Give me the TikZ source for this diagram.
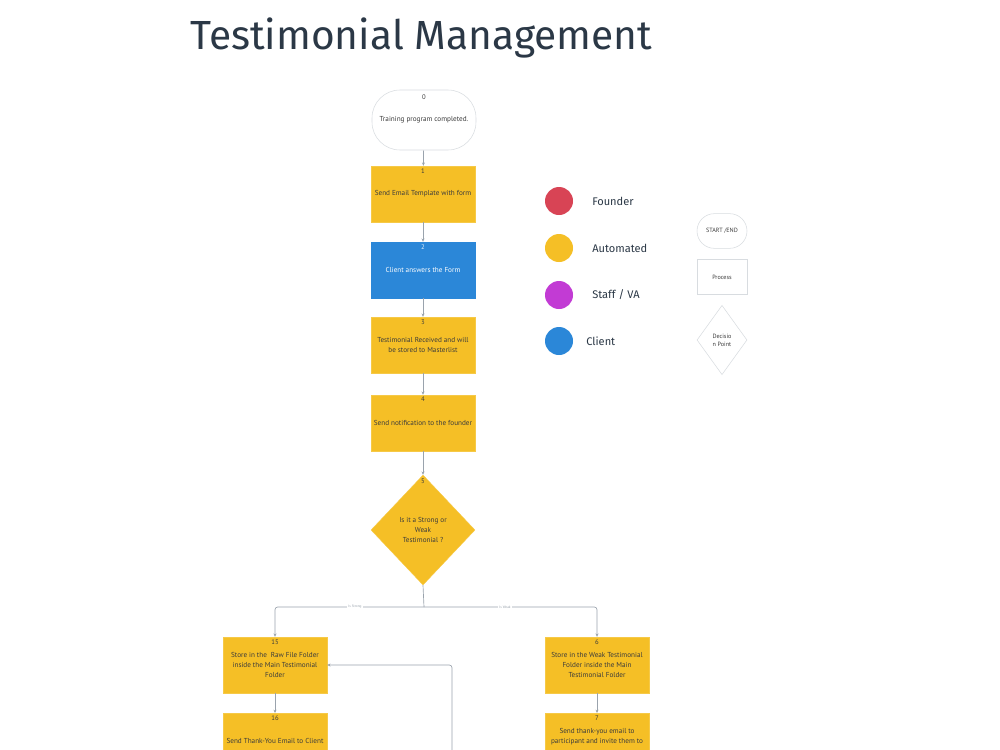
\documentclass[tikz,border=0pt]{standalone}
\usepackage{fontspec}
\setmainfont{Fira Sans}
\newfontfamily\boxfont{PT Sans}
\usetikzlibrary{shapes.geometric,arrows.meta}
\definecolor{autoY}{HTML}{F5BF26}
\definecolor{clientB}{HTML}{2B87D8}
\definecolor{founderR}{HTML}{D84455}
\definecolor{staffP}{HTML}{C23BD4}
\definecolor{lineG}{HTML}{9AA3AD}
\definecolor{edgeG}{HTML}{D8DCE0}
\definecolor{titleC}{HTML}{2B3846}
\definecolor{txtC}{HTML}{3B3B3B}
\tikzset{
  boxtext/.style={font=\boxfont\fontsize{5.4}{7.4}\selectfont, text=txtC, align=center},
  stepbox/.style={rectangle, fill=autoY, draw=autoY!85!white, line width=0.3pt,
    minimum width=78pt, minimum height=42pt, inner sep=1pt, boxtext},
  clientbox/.style={stepbox, fill=clientB, draw=clientB, text=white},
  decbox/.style={diamond, fill=autoY, draw=autoY!85!white, line width=0.3pt,
    minimum width=78pt, minimum height=82.5pt, inner sep=0pt, boxtext},
  termbox/.style={rectangle, rounded corners=21pt, draw=edgeG, fill=white, line width=0.4pt,
    minimum width=78pt, minimum height=45pt, boxtext},
  numlbl/.style={font=\boxfont\fontsize{5}{6}\selectfont, text=txtC, inner sep=0pt},
  conn/.style={draw=lineG, line width=0.5pt, -{Stealth[length=2.5pt,width=2.2pt]}},
  branch/.style={draw=lineG, line width=0.5pt, rounded corners=2pt},
  brlbl/.style={font=\boxfont\fontsize{2.6}{3}\selectfont, text=lineG, fill=white, inner sep=1pt},
  legdot/.style={circle, minimum size=21pt, inner sep=0pt},
  leglbl/.style={font=\fontsize{8.3}{10}\selectfont, text=titleC, anchor=west, inner sep=0pt},
  legshape/.style={draw=edgeG, fill=white, line width=0.4pt, font=\boxfont\fontsize{4.6}{5.8}\selectfont,
    text=txtC, align=center, inner sep=0pt},
}
\begin{document}
\begin{tikzpicture}[x=0.75pt,y=-0.75pt]
\useasboundingbox[fill=white] (0,0) rectangle (1000,750);

% title
\node[font=\fontsize{30.5}{36}\selectfont, text=titleC, anchor=west, inner sep=0pt] (title) at (190,38) {Testimonial Management};

% main column
\node[termbox] (s0) at (424,120) {Training program completed.};
\node[numlbl] (n0) at (424,97) {0};

\node[stepbox] (b1) at (423,194) {Send Email Template with form};
\node[numlbl] (n1) at (423,171) {1};

\node[clientbox] (b2) at (423,270) {Client answers the Form};
\node[numlbl, text=white!85!clientB] (n2) at (423,247) {2};

\node[stepbox] (b3) at (423,345) {Testimonial Received and will\\be stored to Masterlist};
\node[numlbl] (n3) at (423,322) {3};

\node[stepbox] (b4) at (423,423) {Send notification to the founder};
\node[numlbl] (n4) at (423,399) {4};

\node[decbox] (d5) at (423,530) {Is it a Strong or\\Weak\\Testimonial ?};
\node[numlbl] (n5) at (423,481) {5};

% left branch
\node[stepbox] (b15) at (275,665) {Store in the \ Raw File Folder\\inside the Main Testimonial\\Folder};
\node[numlbl] (n15) at (275,642) {15};
\node[stepbox, anchor=north] (b16) at (275,713) {Send Thank-You Email to Client};
\node[numlbl] (n16) at (275,718) {16};

% right branch
\node[stepbox] (b6) at (597,665) {Store in the Weak Testimonial\\Folder inside the Main\\Testimonial Folder};
\node[numlbl] (n6) at (597,642) {6};
\node[stepbox, anchor=north] (b7) at (597,713) {Send thank-you email to\\participant and invite them to\\\mbox{}};
\node[numlbl] (n7) at (597,718) {7};

% connectors
\draw[conn] (s0) -- (b1);
\draw[conn] (b1) -- (b2);
\draw[conn] (b2) -- (b3);
\draw[conn] (b3) -- (b4);
\draw[conn] (b4) -- (d5);
\coordinate (split) at (424,607);
\draw[branch] (d5.south) -- (split);
\draw[branch, -{Stealth[length=2.5pt,width=2.2pt]}] (split) -| (b15.north);
\draw[branch, -{Stealth[length=2.5pt,width=2.2pt]}] (split) -| (b6.north);
\node[brlbl] (lblS) at (355,607) {Is Strong};
\node[brlbl] (lblW) at (505,607) {Is Weak};
\draw[conn] (b15) -- (b16);
\draw[conn] (b6) -- (b7);
\coordinate (loopin) at (452,752);
\draw[conn, rounded corners=2pt] (loopin) |- (b15.east);

% legend: colours
\node[legdot, fill=founderR] (cF) at (559,201) {};
\node[leglbl] (tF) at (592,201) {Founder};
\node[legdot, fill=autoY] (cA) at (559,248) {};
\node[leglbl] (tA) at (592,248) {Automated};
\node[legdot, fill=staffP] (cS) at (559,295) {};
\node[leglbl] (tS) at (592,295) {Staff / VA};
\node[legdot, fill=clientB] (cC) at (559,341) {};
\node[leglbl] (tC) at (586,341) {Client};

% legend: shapes
\node[legshape, rectangle, rounded corners=13pt, minimum width=37.5pt, minimum height=26pt] (kT) at (722,231) {START /END};
\node[legshape, rectangle, minimum width=37.5pt, minimum height=26pt] (kP) at (722,277) {Process};
\node[legshape, diamond, minimum width=37.5pt, minimum height=52pt] (kD) at (722,340) {Decisio\\n Point};
\end{tikzpicture}
\end{document}
